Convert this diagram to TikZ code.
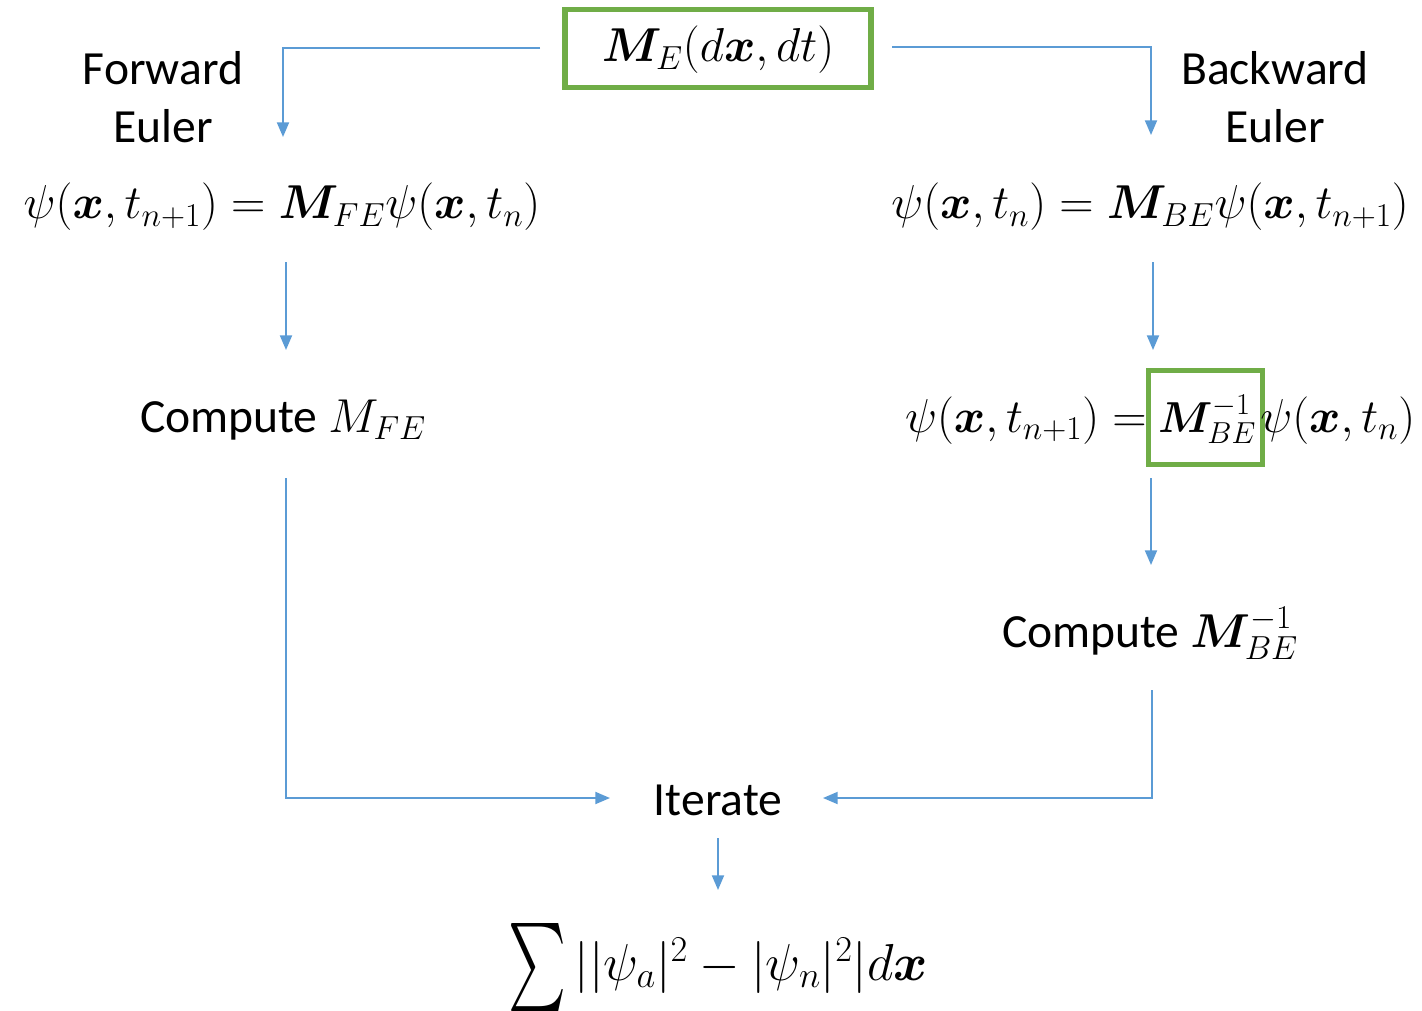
\RequirePackage{fix-cm}
\documentclass[tikz,border=0pt]{standalone}
\usepackage{amsmath}
\usepackage{fontspec}
\setmainfont{Carlito}
\usepackage{bm}
\usetikzlibrary{arrows.meta}
\definecolor{lblue}{HTML}{5B9BD5}
\definecolor{lgreen}{HTML}{70AD47}
\begin{document}
\begin{tikzpicture}[x=0.75pt,y=-0.75pt,
  every node/.style={inner sep=0pt,font=\fontsize{35.7}{43}\selectfont},
  conn/.style={draw=lblue,line width=1.4pt},
  arr/.style={conn,-{Triangle[length=11pt,width=9pt]}},
  gbox/.style={draw=lgreen,line width=3.8pt}]
\useasboundingbox (0,0) rectangle (1422,1011);
% top box
\node[gbox,minimum width=229.5pt,minimum height=58pt] (mebox) at (718,48.5) {};
\node (metext) at (718,50) {$\bm{M}_E(d\bm{x},dt)$};
\coordinate (mL) at (540,48);
\coordinate (mR) at (892,47);
\node (fe) at (163,102) {\begin{tabular}{c}Forward\\[1pt]Euler\end{tabular}};
\node (be) at (1275,102) {\begin{tabular}{c}Backward\\[1pt]Euler\end{tabular}};
\node (eq1) at (282,207) {$\psi(\bm{x},t_{n+1})=\bm{M}_{FE}\psi(\bm{x},t_n)$};
\node (eq2) at (1150,207) {$\psi(\bm{x},t_n)=\bm{M}_{BE}\psi(\bm{x},t_{n+1})$};
\node (cfe) at (283,420) {Compute $M_{FE}$};
% equation with boxed inverse
\node[gbox,minimum width=85.5pt,minimum height=71pt] (mbe) at (1205.5,417.5) {};
\node[anchor=base,font=\fontsize{32.5}{40}\selectfont] (mbet) at (1207,432) {$\bm{M}_{BE}^{-1}$};
\node[anchor=base east] (eq3a) at (1147,432) {$\psi(\bm{x},t_{n+1})=$};
\node[anchor=base west] (eq3b) at (1260,432) {$\psi(\bm{x},t_n)$};
\node (cbe) at (1150,633) {Compute $\bm{M}_{BE}^{-1}$};
\node (it) at (718,800) {Iterate};
\node[anchor=base,font=\fontsize{39}{43}\selectfont] (sum) at (718,980) {$\vcenter{\hbox{\resizebox*{43.5pt}{66pt}{$\sum$}}}\,||\psi_a|^2-|\psi_n|^2|d\bm{x}$};
% connectors
\draw[arr] (mL) -| (283,137);
\draw[arr] (mR) -| (1151,135);
\draw[arr] (286,262) -- (286,350);
\draw[arr] (1153,262) -- (1153,350);
\draw[arr] (1151,478) -- (1151,565);
\draw[arr] (286,478) |- (610,798);
\draw[arr] (1152,690) |- (823,798);
\draw[arr] (718,838) -- (718,890);
\end{tikzpicture}
\end{document}
